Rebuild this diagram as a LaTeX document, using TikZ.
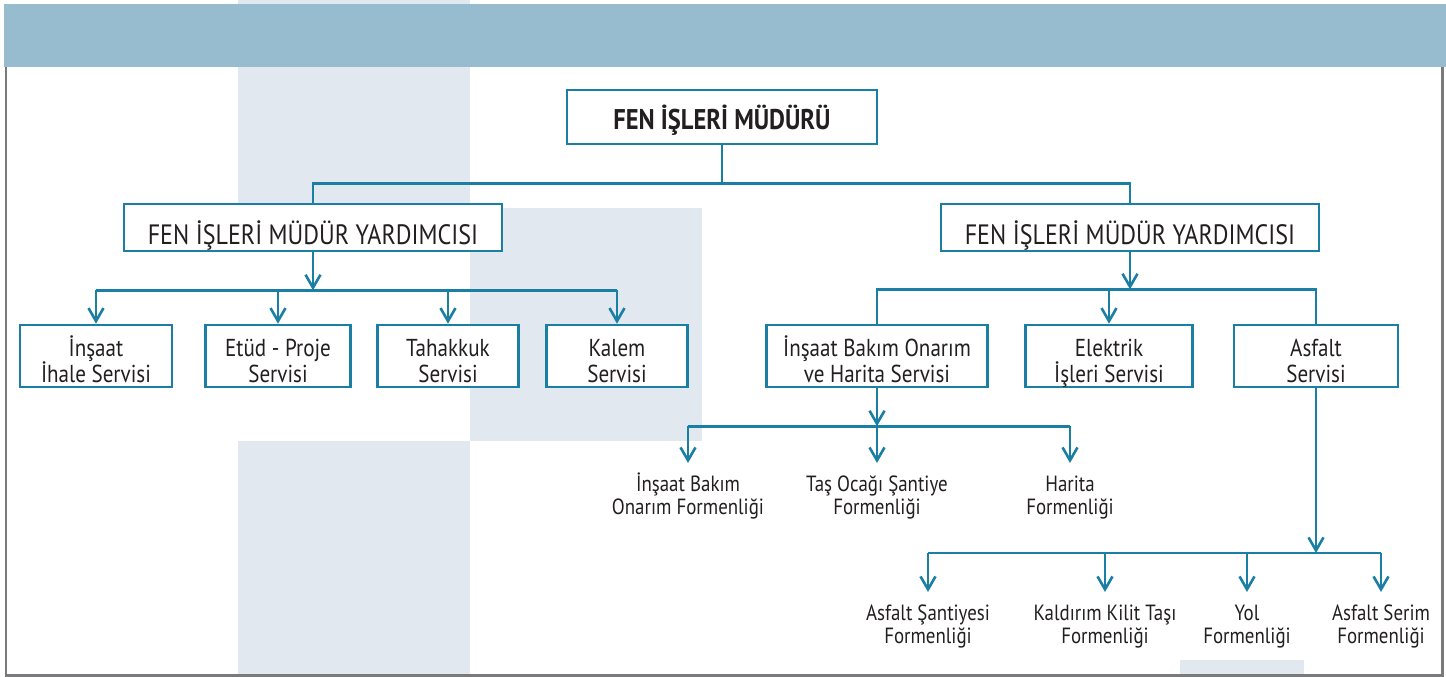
\documentclass[tikz,border=0pt]{standalone}
\usepackage{fontspec}
\setmainfont{PT Sans}[FakeStretch=0.86]
\usetikzlibrary{arrows.meta}
\definecolor{lineblue}{HTML}{1A7FA2}
\definecolor{bandblue}{HTML}{97BBCF}
\definecolor{lightbg}{HTML}{E1E8EF}
\definecolor{framegray}{HTML}{7A7A7C}
\definecolor{txt}{HTML}{231F20}
\tikzset{
  conn/.style={draw=lineblue, line width=2.6pt, line join=miter},
  arrowed/.style={conn, -{Straight Barb[length=13pt,width=15pt,line width=2.6pt]}},
  box/.style={draw=lineblue, line width=2.6pt, fill=white, text=txt, align=center, inner sep=0pt},
  topbox/.style={box, minimum width=310pt, minimum height=54pt, text height=25pt, text depth=0pt, font=\bfseries\fontsize{28.5}{30}\selectfont},
  yardbox/.style={box, minimum width=378pt, minimum height=47pt, text height=33pt, text depth=0pt, font=\fontsize{28}{30}\selectfont},
  servbox/.style={box, minimum height=62pt, text height=52pt, text depth=0pt, font=\fontsize{24.5}{26}\selectfont},
  lbl/.style={text=txt, align=center, anchor=north, inner xsep=0pt, inner ysep=12pt, text height=39pt, font=\fontsize{22}{23}\selectfont},
}
\begin{document}
\begin{tikzpicture}[x=1pt,y=-1pt]
\useasboundingbox (0,0) rectangle (1446,677);
% background panels
\fill[lightbg] (238,0) rectangle (470,208);
\fill[lightbg] (470,208) rectangle (702,441);
\fill[lightbg] (238,441) rectangle (470,677);
\fill[lightbg] (1180,660) rectangle (1304,677);
\fill[bandblue] (4,4) rectangle (1446,67);
\draw[framegray, line width=2.5pt] (6,67) -- (6,675.5) -- (1442.5,675.5) -- (1442.5,67);

% nodes
\node[topbox] (top) at (722,117) {FEN İŞLERİ MÜDÜRÜ};
\node[yardbox] (lyard) at (313,227.5) {FEN İŞLERİ MÜDÜR YARDIMCISI};
\node[yardbox] (ryard) at (1130,227.5) {FEN İŞLERİ MÜDÜR YARDIMCISI};

\node[servbox, minimum width=152pt] (s1) at (96,356) {İnşaat\\İhale Servisi};
\node[servbox, minimum width=145pt] (s2) at (278,356) {Etüd - Proje\\Servisi};
\node[servbox, minimum width=141pt] (s3) at (448,356) {Tahakkuk\\Servisi};
\node[servbox, minimum width=141pt] (s4) at (617,356) {Kalem\\Servisi};

\node[servbox, minimum width=221pt] (r1) at (877,356) {İnşaat Bakım Onarım\\ve Harita Servisi};
\node[servbox, minimum width=167pt] (r2) at (1109,356) {Elektrik\\İşleri Servisi};
\node[servbox, minimum width=164pt] (r3) at (1316,356) {Asfalt\\Servisi};

\node[lbl] (f1) at (688,463) {İnşaat Bakım\\Onarım Formenliği};
\node[lbl] (f2) at (877,463) {Taş Ocağı Şantiye\\Formenliği};
\node[lbl] (f3) at (1070,463) {Harita\\Formenliği};

\node[lbl] (g1) at (928,592) {Asfalt Şantiyesi\\Formenliği};
\node[lbl] (g2) at (1105,592) {Kaldırım Kilit Taşı\\Formenliği};
\node[lbl] (g3) at (1247,592) {Yol\\Formenliği};
\node[lbl] (g4) at (1381,592) {Asfalt Serim\\Formenliği};

% connectors
\draw[conn] (top.south) -- ++(0,38) coordinate (tj);
\draw[conn] (lyard.north) -- (lyard.north |- tj) -- (ryard.north |- tj) -- (ryard.north);

\draw[arrowed] (lyard.south) -- ++(0,38) coordinate (lj);
\draw[conn] (s1.north |- lj) -- (s4.north |- lj);
\foreach \n in {s1,s2,s3,s4} \draw[arrowed] (\n.north |- lj) -- (\n.north);

\draw[arrowed] (ryard.south) -- ++(0,37) coordinate (rj);
\draw[conn] (r1.north) -- (r1.north |- rj) -- (r3.north |- rj) -- (r3.north);
\draw[arrowed] (r2.north |- rj) -- (r2.north);

\draw[arrowed] (r1.south) -- ++(0,38) coordinate (fj);
\draw[conn] (f1.north |- fj) -- (f3.north |- fj);
\foreach \n in {f1,f2,f3} \draw[arrowed] (\n.north |- fj) -- (\n.north);

\coordinate (aj) at (1316,553);
\draw[arrowed] (r3.south) -- (aj);
\draw[conn] (g1.north |- aj) -- (g4.north |- aj);
\foreach \n in {g1,g2,g3,g4} \draw[arrowed] (\n.north |- aj) -- (\n.north);
\end{tikzpicture}
\end{document}
